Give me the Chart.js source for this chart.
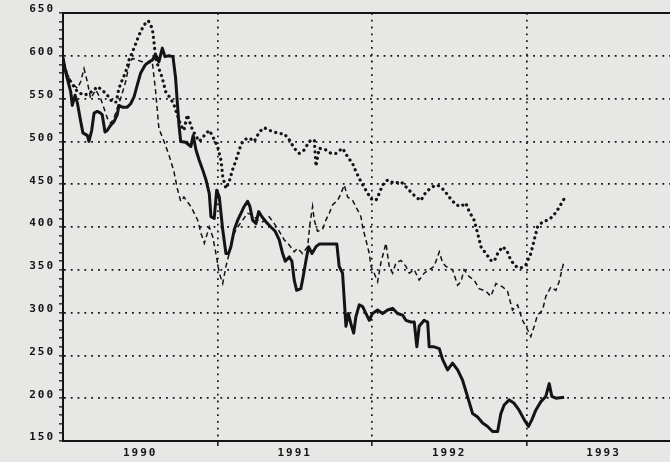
<!DOCTYPE html>
<html>
<head>
<meta charset="utf-8">
<script src="https://cdn.jsdelivr.net/npm/chart.js@4.4.1/dist/chart.umd.min.js"></script>
<style>
  html, body { margin: 0; padding: 0; background: #e7e7e5; }
  canvas { display: block; }
</style>
</head>
<body>
<canvas id="chart" width="670" height="462"></canvas>
<script>
// tick labels
const yearLabels = ['1990', '1991', '1992', '1993'];
const tickYears = [1990, 1990.5, 1991, 1991.5, 1992, 1992.5, 1993, 1993.5];

// solid heavy line
const solidYears = [1990.000,1990.017,1990.050,1990.060,1990.078,1990.093,1990.115,1990.129,1990.157,1990.168,
  1990.186,1990.201,1990.222,1990.244,1990.254,1990.272,1990.287,1990.309,1990.330,1990.351,
  1990.362,1990.384,1990.416,1990.438,1990.460,1990.481,1990.503,1990.531,1990.557,1990.578,
  1990.600,1990.621,1990.643,1990.660,1990.686,1990.712,1990.729,1990.740,1990.751,1990.762,
  1990.794,1990.828,1990.843,1990.861,1990.882,1990.904,1990.926,1990.947,1990.958,1990.979,
  1990.995,1991.012,1991.034,1991.055,1991.072,1991.087,1991.109,1991.131,1991.152,1991.173,
  1991.195,1991.210,1991.228,1991.249,1991.267,1991.288,1991.314,1991.346,1991.374,1991.400,
  1991.422,1991.439,1991.465,1991.482,1991.497,1991.513,1991.540,1991.555,1991.573,1991.590,
  1991.612,1991.638,1991.659,1991.773,1991.788,1991.810,1991.821,1991.832,1991.847,1991.864,
  1991.882,1991.896,1991.918,1991.940,1991.961,1991.983,1992.004,1992.037,1992.069,1992.102,
  1992.134,1992.166,1992.199,1992.220,1992.252,1992.274,1992.291,1992.306,1992.338,1992.361,
  1992.371,1992.403,1992.436,1992.458,1992.490,1992.522,1992.555,1992.587,1992.619,1992.652,
  1992.684,1992.717,1992.749,1992.781,1992.814,1992.835,1992.856,1992.889,1992.921,1992.953,
  1992.986,1993.014,1993.036,1993.061,1993.094,1993.126,1993.148,1993.165,1993.191,1993.245];
const solidValues = [598,581,558,542,554,545,523,510,507,500,
  513,533,535,533,531,511,513,519,523,531,
  542,540,540,544,552,566,580,589,593,595,
  601,593,609,599,600,599,574,546,519,500,
  499,494,507,490,478,467,455,439,412,410,
  443,435,397,369,369,377,397,408,416,424,
  430,424,408,404,418,412,406,400,395,385,
  369,360,365,360,338,326,328,342,361,377,
  369,377,380,380,354,346,315,284,299,287,
  276,295,309,307,299,291,299,303,299,303,
  305,299,297,291,289,289,260,284,291,289,
  260,260,258,245,233,241,233,221,202,182,
  178,171,167,161,161,182,192,198,194,186,
  175,167,175,186,196,202,217,202,200,201];

// heavy dotted line
const dottedYears = [1990.000,1990.017,1990.039,1990.071,1990.093,1990.136,1990.168,1990.201,1990.222,1990.254,
  1990.287,1990.319,1990.345,1990.362,1990.384,1990.406,1990.427,1990.460,1990.492,1990.524,
  1990.552,1990.578,1990.589,1990.600,1990.621,1990.643,1990.665,1990.697,1990.718,1990.740,
  1990.762,1990.783,1990.805,1990.839,1990.882,1990.915,1990.947,1990.969,1991.001,1991.023,
  1991.034,1991.055,1991.076,1991.098,1991.120,1991.152,1991.173,1991.206,1991.238,1991.271,
  1991.303,1991.335,1991.368,1991.400,1991.432,1991.465,1991.497,1991.529,1991.562,1991.594,
  1991.627,1991.638,1991.659,1991.702,1991.735,1991.767,1991.810,1991.843,1991.875,1991.896,
  1991.929,1991.961,1991.994,1992.026,1992.047,1992.069,1992.102,1992.144,1992.188,1992.220,
  1992.252,1992.285,1992.317,1992.350,1992.393,1992.425,1992.468,1992.500,1992.544,1992.576,
  1992.608,1992.630,1992.662,1992.684,1992.706,1992.738,1992.770,1992.792,1992.814,1992.846,
  1992.872,1992.900,1992.932,1992.964,1992.997,1993.029,1993.051,1993.072,1993.105,1993.137,
  1993.170,1993.202,1993.245];
const dottedValues = [595,583,572,564,558,554,556,560,564,560,
  554,546,546,562,572,581,595,609,624,636,
  641,632,616,597,585,574,558,550,543,531,
  519,513,531,513,500,507,513,506,494,478,
  459,445,453,467,478,496,502,504,500,511,
  516,513,511,509,509,502,492,486,490,500,
  502,471,492,490,486,486,492,482,474,465,
  453,443,433,431,439,449,455,451,453,447,
  441,435,431,441,447,449,443,435,426,424,
  428,418,408,393,377,369,361,360,369,377,
  373,361,354,352,356,369,385,400,406,408,
  412,420,433];

// thin dashed line
const dashedYears = [1990.000,1990.039,1990.071,1990.093,1990.115,1990.136,1990.157,1990.179,1990.212,1990.244,
  1990.265,1990.287,1990.309,1990.330,1990.351,1990.373,1990.406,1990.427,1990.449,1990.481,
  1990.513,1990.546,1990.578,1990.600,1990.621,1990.654,1990.686,1990.718,1990.740,1990.762,
  1990.783,1990.827,1990.839,1990.872,1990.893,1990.915,1990.947,1990.969,1990.990,1991.012,
  1991.034,1991.055,1991.076,1991.098,1991.131,1991.163,1991.195,1991.228,1991.260,1991.293,
  1991.335,1991.368,1991.400,1991.432,1991.465,1991.497,1991.519,1991.551,1991.584,1991.599,
  1991.616,1991.627,1991.648,1991.680,1991.702,1991.724,1991.746,1991.778,1991.799,1991.821,
  1991.843,1991.875,1991.907,1991.929,1991.940,1991.961,1991.983,1991.994,1992.015,1992.037,
  1992.058,1992.091,1992.112,1992.134,1992.155,1992.188,1992.220,1992.242,1992.274,1992.306,
  1992.338,1992.371,1992.403,1992.436,1992.458,1992.479,1992.522,1992.555,1992.576,1992.597,
  1992.630,1992.662,1992.694,1992.738,1992.770,1992.803,1992.846,1992.878,1992.910,1992.943,
  1992.975,1993.008,1993.029,1993.051,1993.072,1993.105,1993.126,1993.159,1993.191,1993.212,
  1993.245];
const dashedValues = [593,574,566,562,570,585,570,550,560,550,
  539,527,521,527,539,550,570,589,597,595,
  593,591,593,558,515,500,484,465,445,430,
  435,424,420,408,393,381,400,389,369,346,
  334,354,369,389,400,408,416,414,408,406,
  412,404,395,385,379,371,375,369,377,404,
  424,408,395,397,408,416,426,431,439,449,
  435,431,420,412,400,385,369,354,346,336,
  358,381,354,346,358,361,354,346,350,338,
  346,350,354,371,358,354,350,332,336,350,
  342,338,328,325,319,334,330,325,303,309,
  291,280,272,284,297,303,319,330,326,336,
  361];

const ink = '#141414';
const labelFont = { family: "'DejaVu Sans Mono', monospace", size: 11, weight: 'bold' };
const pts = (xs, ys) => xs.map((x, i) => ({ x: x, y: ys[i] }));

const frame = {
  id: 'frame',
  beforeDraw(chart) {
    chart.ctx.letterSpacing = '2px';
  },
  afterDraw(chart) {
    const { ctx, chartArea } = chart;
    ctx.save();
    ctx.strokeStyle = ink;
    ctx.lineWidth = 2;
    ctx.beginPath();
    ctx.moveTo(chartArea.left - 1, chartArea.top);
    ctx.lineTo(chart.width, chartArea.top);
    ctx.stroke();
    ctx.restore();
  }
};

const ctx = document.getElementById('chart').getContext('2d');
const chart = new Chart(ctx, {
  type: 'line',
  data: {
    datasets: [
      {
        label: 'solid',
        data: pts(solidYears, solidValues),
        borderColor: ink,
        borderWidth: 3,
        borderJoinStyle: 'round',
        pointRadius: 0,
        tension: 0
      },
      {
        label: 'dotted',
        data: pts(dottedYears, dottedValues),
        borderColor: ink,
        borderWidth: 3.2,
        borderDash: [0.1, 5.5],
        borderCapStyle: 'round',
        pointRadius: 0,
        tension: 0
      },
      {
        label: 'dashed',
        data: pts(dashedYears, dashedValues),
        borderColor: ink,
        borderWidth: 1.5,
        borderDash: [5, 3.5],
        pointRadius: 0,
        tension: 0
      }
    ]
  },
  options: {
    responsive: false,
    animation: false,
    devicePixelRatio: 1,
    layout: { padding: { top: 13, right: 0, bottom: 0, left: 0 } },
    plugins: {
      legend: { display: false },
      tooltip: { enabled: false }
    },
    scales: {
      x: {
        type: 'linear',
        min: 1990,
        max: 1993.93,
        afterBuildTicks: s => { s.ticks = tickYears.map(v => ({ value: v })); },
        afterFit: s => { s.height = 21; },
        ticks: {
          autoSkip: false,
          maxRotation: 0,
          color: ink,
          font: labelFont,
          padding: 1,
          callback: v => Number.isInteger(v) ? '' : yearLabels[Math.floor(v) - 1990]
        },
        grid: {
          color: c => (c.tick && Number.isInteger(c.tick.value) && c.tick.value > 1990) ? ink : 'rgba(0,0,0,0)',
          tickColor: c => (c.tick && Number.isInteger(c.tick.value) && c.tick.value > 1990) ? ink : 'rgba(0,0,0,0)',
          lineWidth: 1.7,
          tickWidth: 1.5,
          tickLength: 5
        },
        border: { color: ink, width: 2, dash: [1.8, 5] }
      },
      y: {
        min: 150,
        max: 650,
        afterBuildTicks: s => {
          const t = [];
          for (let v = 150; v <= 650; v += 10) t.push({ value: v });
          s.ticks = t;
        },
        afterFit: s => { s.width = 63; },
        ticks: {
          autoSkip: false,
          color: ink,
          font: labelFont,
          padding: 4,
          labelOffset: -3.5,
          callback: v => v % 50 === 0 ? String(v) : ''
        },
        grid: {
          color: c => (c.tick && c.tick.value % 50 === 0 && c.tick.value > 150 && c.tick.value < 650) ? ink : 'rgba(0,0,0,0)',
          tickColor: ink,
          lineWidth: 1.7,
          tickWidth: 1.3,
          tickLength: 4
        },
        border: { color: ink, width: 2, dash: [1.8, 5] }
      }
    }
  },
  plugins: [frame]
});
</script>
</body>
</html>
